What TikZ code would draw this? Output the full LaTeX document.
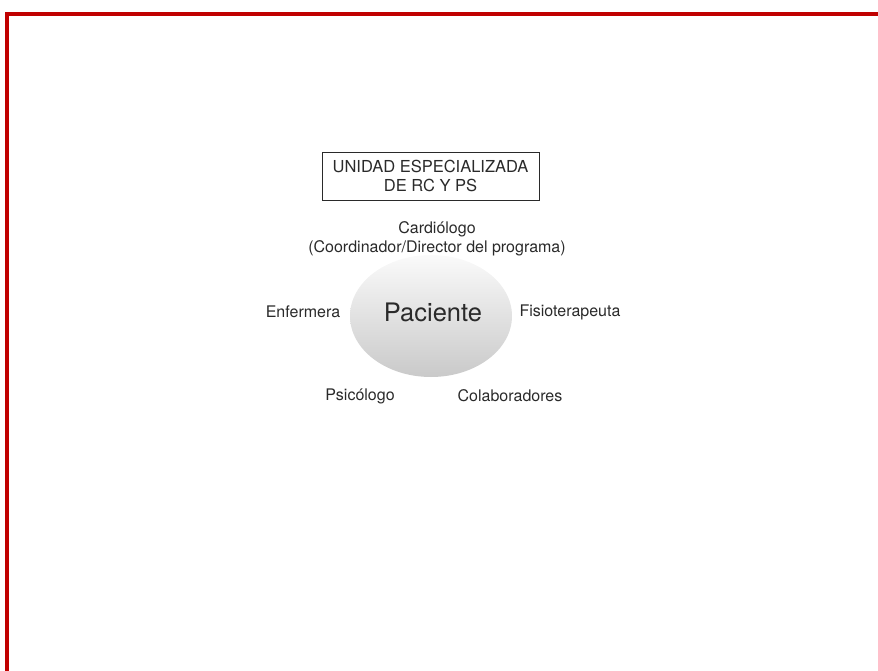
\documentclass[tikz,border=0pt]{standalone}
\usepackage{fontspec}
\setmainfont{TeX Gyre Heros}
\usetikzlibrary{positioning}

\definecolor{framered}{HTML}{C00000}
\definecolor{textgray}{HTML}{2A2A2A}

\tikzset{
  label/.style={text=textgray, font=\fontsize{16}{19}\selectfont, align=center, inner sep=0pt},
  unitbox/.style={draw=textgray, line width=0.7pt, text=textgray, font=\fontsize{16.5}{19}\selectfont,
    align=center, minimum width=217pt, minimum height=48pt, inner sep=0pt}
}

\begin{document}
\begin{tikzpicture}[x=1pt, y=-1pt]
      \useasboundingbox (0,0) rectangle (878,671);
      \clip (0,0) rectangle (878,671);

      % red frame, partly off the page
      \draw[framered, line width=4pt] (7,700) -- (7,14) -- (900,14);

      \node[unitbox] (unidad) at (430.5,176) {UNIDAD ESPECIALIZADA\\DE RC Y PS};

      \shade[top color=gray!4, bottom color=gray!42] (431,316) ellipse (81 and 61);
      \node[text=textgray, font=\fontsize{25.5}{30}\selectfont, inner sep=0pt] (paciente) at (433,312) {Paciente};

      \node[label] (cardiologo) at (437,239) {Cardiólogo\\(Coordinador/Director del programa)};
      \node[label] (enfermera) at (303,312) {Enfermera};
      \node[label] (fisio) at (570,312) {Fisioterapeuta};
      \node[label] (psicologo) at (360,396) {Psicólogo};
      \node[label] (colab) at (510,396) {Colaboradores};
\end{tikzpicture}
\end{document}
